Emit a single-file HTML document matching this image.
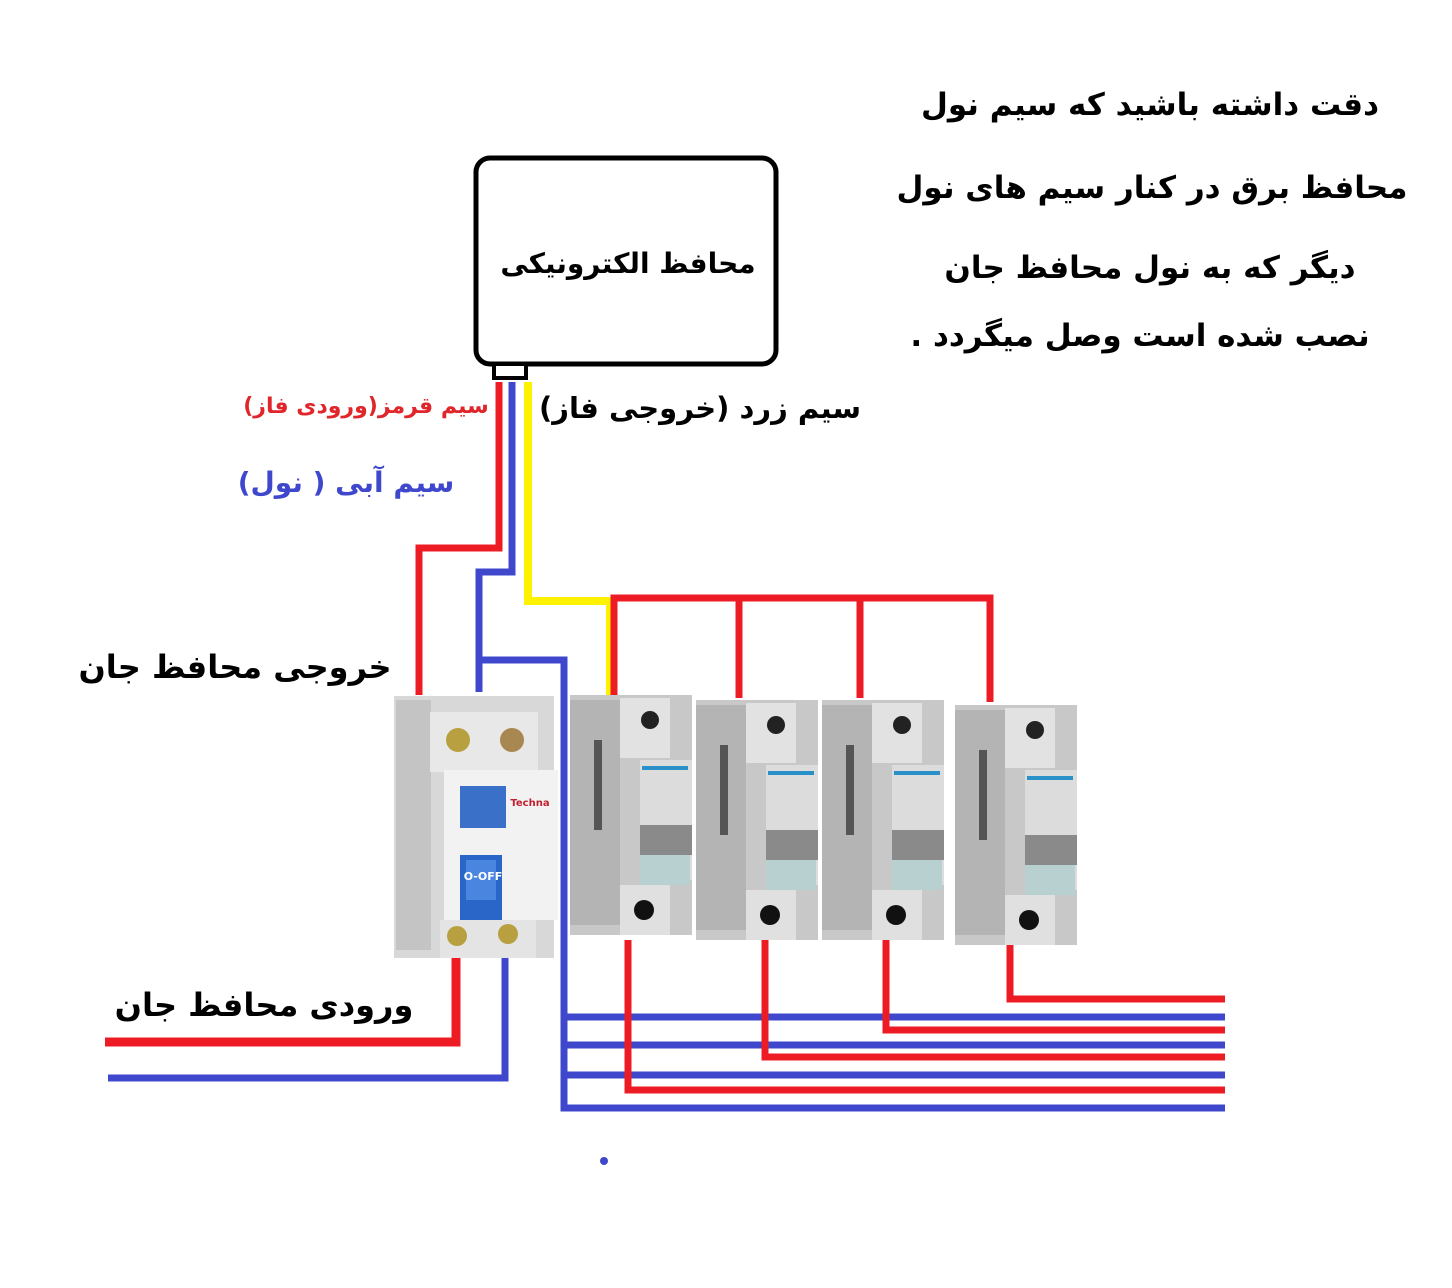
<!DOCTYPE html>
<html><head><meta charset="utf-8"><style>
html,body{margin:0;padding:0;background:#fff}
svg{display:block}
text{font-family:"DejaVu Sans","Liberation Sans",sans-serif;font-weight:bold;direction:rtl;unicode-bidi:embed}
</style></head><body>
<svg width="1452" height="1288" viewBox="0 0 1452 1288" xmlns="http://www.w3.org/2000/svg">
<rect width="1452" height="1288" fill="#fff"/>
<g text-anchor="middle" font-size="31" fill="#000">
<text x="1150" y="115">دقت داشته باشید که سیم نول</text>
<text x="1152" y="198">محافظ برق در کنار سیم های نول</text>
<text x="1150" y="278">دیگر که به نول محافظ جان</text>
<text x="1140" y="346">نصب شده است وصل میگردد .</text>
</g>
<rect x="476" y="158" width="300" height="206" rx="14" fill="#fff" stroke="#000" stroke-width="5"/>
<rect x="494" y="364" width="32" height="14" fill="#fff" stroke="#000" stroke-width="4"/>
<text x="628" y="273" text-anchor="middle" font-size="28">محافظ الکترونیکی</text>
<text x="366" y="413" text-anchor="middle" font-size="22" fill="#e0262a">سیم قرمز(ورودی فاز)</text>
<text x="700" y="418" text-anchor="middle" font-size="29">سیم زرد (خروجی فاز)</text>
<text x="346" y="492" text-anchor="middle" font-size="28" fill="#3f48cc">سیم آبی ( نول)</text>
<text x="235" y="678" text-anchor="middle" font-size="32">خروجی محافظ جان</text>
<text x="264" y="1016" text-anchor="middle" font-size="32">ورودی محافظ جان</text>
<g fill="none" stroke-width="7" stroke-linejoin="miter">
<polyline points="499,382 499,548 419,548 419,695" stroke="#ed1c24"/>
<polyline points="512,382 512,572 479,572 479,692" stroke="#3f48cc"/>
<polyline points="479,660 564,660 564,1108 1225,1108" stroke="#3f48cc"/>
<polyline points="528,382 528,601 610,601 610,695" stroke="#fff200" stroke-width="8"/>
<polyline points="614,695 614,598 990,598 990,702" stroke="#ed1c24"/>
<line x1="739" y1="598" x2="739" y2="698" stroke="#ed1c24"/>
<line x1="860" y1="598" x2="860" y2="698" stroke="#ed1c24"/>
<polyline points="456,958 456,1042 105,1042" stroke="#ed1c24" stroke-width="9"/>
<polyline points="505,955 505,1078 108,1078" stroke="#3f48cc"/>
<line x1="564" y1="1017" x2="1225" y2="1017" stroke="#3f48cc"/>
<line x1="564" y1="1045" x2="1225" y2="1045" stroke="#3f48cc"/>
<line x1="564" y1="1075" x2="1225" y2="1075" stroke="#3f48cc"/>
<polyline points="628,940 628,1090 1225,1090" stroke="#ed1c24"/>
<polyline points="765,940 765,1057 1225,1057" stroke="#ed1c24"/>
<polyline points="886,940 886,1030 1225,1030" stroke="#ed1c24"/>
<polyline points="1010,945 1010,999 1225,999" stroke="#ed1c24"/>
</g>
<circle cx="604" cy="1161" r="4" fill="#3f48cc"/>
<g>
<rect x="394" y="696" width="160" height="262" fill="#d8d8d8"/>
<rect x="396" y="700" width="35" height="250" fill="#c4c4c4"/>
<rect x="430" y="712" width="108" height="60" fill="#e8e8e8"/>
<circle cx="458" cy="740" r="12" fill="#b8a040"/><circle cx="512" cy="740" r="12" fill="#a88850"/>
<rect x="444" y="770" width="114" height="150" fill="#f2f2f2"/>
<rect x="460" y="786" width="46" height="42" fill="#3a70c8"/>
<rect x="460" y="855" width="42" height="70" fill="#2a66c8"/>
<rect x="466" y="860" width="30" height="40" fill="#4a86e0"/>
<text x="483" y="880" text-anchor="middle" font-size="11" fill="#fff" font-weight="normal" style="direction:ltr">O-OFF</text>
<text x="530" y="806" text-anchor="middle" font-size="10" fill="#c02030" style="direction:ltr">Techna</text>
<rect x="440" y="920" width="96" height="38" fill="#e4e4e4"/>
<circle cx="457" cy="936" r="10" fill="#b8a040"/><circle cx="508" cy="934" r="10" fill="#b8a040"/>
</g>
<g id="m">
<rect x="570" y="695" width="122" height="240" fill="#c8c8c8"/>
<rect x="570" y="700" width="50" height="225" fill="#b4b4b4"/>
<rect x="620" y="698" width="50" height="60" fill="#e2e2e2"/>
<circle cx="650" cy="720" r="9" fill="#222"/>
<rect x="640" y="760" width="52" height="120" fill="#dcdcdc"/>
<rect x="642" y="766" width="46" height="4" fill="#2a90c8"/>
<rect x="640" y="825" width="52" height="30" fill="#8a8a8a"/>
<rect x="640" y="855" width="50" height="30" fill="#b8d0d0"/>
<rect x="620" y="885" width="50" height="50" fill="#e0e0e0"/>
<circle cx="644" cy="910" r="10" fill="#111"/>
<rect x="594" y="740" width="8" height="90" fill="#555"/>
</g>
<use href="#m" transform="translate(126,5)"/>
<use href="#m" transform="translate(252,5)"/>
<use href="#m" transform="translate(385,10)"/>
</svg>
</body></html>
